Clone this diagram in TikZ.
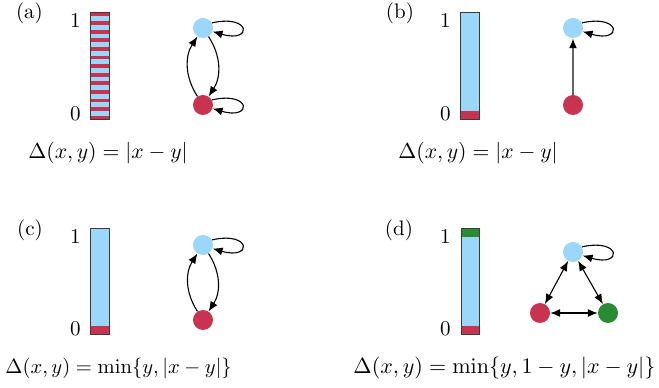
\documentclass[tikz,border=0pt]{standalone}
\usetikzlibrary{arrows.meta}
\definecolor{lblue}{HTML}{9AD7FB}
\definecolor{cred}{HTML}{C8344F}
\definecolor{cgreen}{HTML}{2A8C32}
\definecolor{barline}{HTML}{3C3C3C}
\tikzset{
  vert/.style={circle, minimum size=20pt, inner sep=0pt, draw=none},
  bluev/.style={vert, fill=lblue},
  redv/.style={vert, fill=cred},
  greenv/.style={vert, fill=cgreen},
  tipA/.tip={Latex[length=10pt,width=8pt]},
  arr/.style={-tipA, line width=1.1pt, black},
  darr/.style={tipA-tipA, line width=1.1pt, black},
  barframe/.style={draw=barline, line width=1pt},
  tick/.style={inner sep=0pt, scale=2.1},
  panel/.style={inner sep=0pt, scale=2.1},
}
\begin{document}
\begin{tikzpicture}[x=1pt,y=1pt]
\useasboundingbox (0,0) rectangle (659,388);

% ---------- (a) ----------
\node[panel] (la) at (29.5,374.5) {(a)};
\fill[lblue] (90,268) rectangle (109,375);
\foreach \k in {0,...,12} {
  \fill[cred] (90,{388-14.5-8.6*\k-1.9}) rectangle (109,{388-14.5-8.6*\k+1.9});
}
\draw[barframe] (90,268) rectangle (109,375);
\node[tick, anchor=north east] (a1) at (81,375) {1};
\node[tick, anchor=base east] (a0) at (81,267) {0};
\node[bluev] (ab) at (203,360) {};
\node[redv] (ar) at (203,283) {};
\draw[arr] (ab) to[bend left=33] (ar);
\draw[arr] (ar) to[bend left=33] (ab);
\draw[arr] (ab.30) .. controls +(40,9) and +(40,-12) .. (ab.-20);
\draw[arr] (ar.30) .. controls +(40,9) and +(40,-12) .. (ar.-20);
\node[panel, scale=1.03, anchor=base west] (fa) at (28,229) {$\Delta(x,y)=|x-y|$};

% ---------- (b) ----------
\node[panel] (lb) at (400,374.5) {(b)};
\fill[lblue] (460,268) rectangle (479,375);
\fill[cred] (460,268) rectangle (479,277);
\draw[barframe] (460,268) rectangle (479,375);
\node[tick, anchor=north east] (b1) at (451,375) {1};
\node[tick, anchor=base east] (b0) at (451,267) {0};
\node[bluev] (bb) at (573,360) {};
\node[redv] (br) at (573,283) {};
\draw[line width=1.8pt, draw=black!60, -{Latex[length=10pt,width=8pt,fill=black,color=black]}] (br) -- (bb);
\draw[arr] (bb.30) .. controls +(40,9) and +(40,-12) .. (bb.-20);
\node[panel, scale=1.03, anchor=base west] (fb) at (398,229) {$\Delta(x,y)=|x-y|$};

% ---------- (c) ----------
\node[panel] (lc) at (30,158) {(c)};
\fill[lblue] (90,53) rectangle (109,159);
\fill[cred] (90,53) rectangle (109,62);
\draw[barframe] (90,53) rectangle (109,159);
\node[tick, anchor=north east] (c1) at (81,159) {1};
\node[tick, anchor=base east] (c0) at (81,52) {0};
\node[bluev] (cb) at (203,143) {};
\node[redv] (cr) at (203,68) {};
\draw[arr] (cb) to[bend left=33] (cr);
\draw[arr] (cr) to[bend left=33] (cb);
\draw[arr] (cb.30) .. controls +(40,9) and +(40,-12) .. (cb.-20);
\node[panel, scale=0.98, anchor=base west] (fc) at (5,14) {$\Delta(x,y)=\min\{y,|x-y|\}$};

% ---------- (d) ----------
\node[panel] (ld) at (399,158) {(d)};
\fill[lblue] (461,53) rectangle (479,159);
\fill[cred] (461,53) rectangle (479,62);
\fill[cgreen] (461,151) rectangle (479,159);
\draw[barframe] (461,53) rectangle (479,159);
\node[tick, anchor=north east] (d1) at (451,159) {1};
\node[tick, anchor=base east] (d0) at (451,52) {0};
\node[bluev] (db) at (573,136) {};
\node[redv] (dr) at (540,75) {};
\node[greenv] (dg) at (608,75) {};
\draw[darr] (db) -- (dr);
\draw[darr] (db) -- (dg);
\draw[darr] (dr) -- (dg);
\draw[arr] (db.30) .. controls +(40,9) and +(40,-12) .. (db.-20);
\node[panel, scale=1.05, anchor=base west] (fd) at (353,14) {$\Delta(x,y)=\min\{y,1-y,|x-y|\}$};
\end{tikzpicture}
\end{document}
